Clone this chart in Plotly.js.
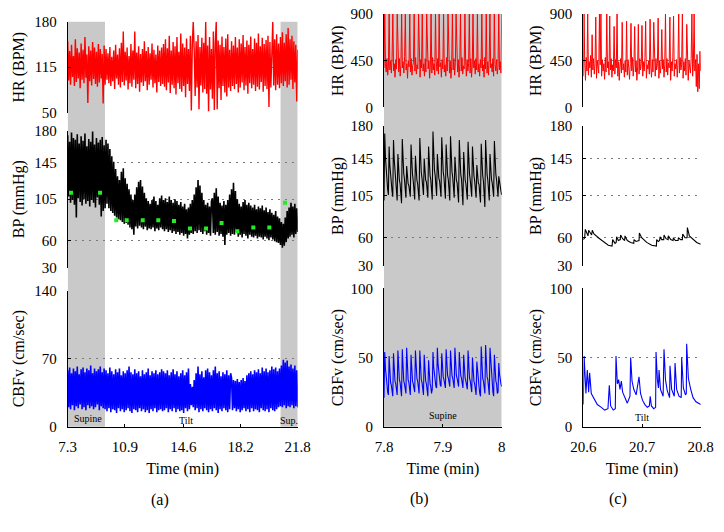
<!DOCTYPE html>
<html>
<head>
<meta charset="utf-8">
<script src="https://cdn.plot.ly/plotly-3.0.1.min.js"></script>
<style>html,body{margin:0;padding:0;background:#fff;}#chart{width:724px;height:532px;}</style>
</head>
<body>
<div id="chart"></div>
<script>
// ---------------- Data ----------------
// Panel (a): 7.3 - 21.8 min, samples evenly spaced (x0 / dx)
var timeA0 = 7.3, timeAStep = 0.060417;
var hrA = [
152,96,138,90,147,101,131,88,155,94,142,99,136,85,149,97,140,92,158,100,133,64,145,95,139,89,151,98,143,91,137,87,148,93,141,99,134,63,146,90,
141,97,135,92,144,88,130,95,139,84,147,99,133,90,142,86,150,94,166,89,137,96,143,83,131,92,148,87,139,97,166,85,136,91,145,80,134,93,141,88,152,95,138,82,144,90,135,97,149,86,140,92,133,79,146,94,139,88,143,91,
148,87,155,82,142,93,160,78,139,90,151,85,145,76,158,92,137,84,163,80,149,88,143,72,156,91,141,81,160,53,147,180,139,74,152,86,161,55,144,89,157,79,150,84,180,77,146,52,158,83,141,70,166,54,149,180,55,153,85,147,68,159,88,144,79,156,73,162,86,140,81,
152,88,146,84,158,91,143,79,155,86,149,93,161,82,144,89,153,77,147,92,159,85,141,90,156,81,150,87,163,83,145,94,157,80,148,88,154,84,160,58,151,86,147,180,89,155,82,162,90,149,85,
158,92,165,88,150,95,162,86,171,90,155,97,160,84,152,93,147,66,140];
var bpA = [
175,108,168,101,178,104,172,99,170,85,176,106,166,102,174,98,169,105,177,100,163,103,171,97,168,104,179,101,165,96,172,107,167,99,170,86,173,92,164,95,
170,100,166,95,160,92,152,90,146,87,138,85,130,83,126,82,135,80,139,78,128,
79,122,77,116,74,110,72,104,66,110,75,118,73,124,76,126,74,119,72,112,75,106,71,103,73,100,72,104,74,108,70,103,73,99,71,106,74,109,72,104,
70,106,72,102,69,108,71,104,68,101,70,105,67,103,69,99,66,102,68,97,65,100,67,94,62,96,66,100,68,104,67,110,70,118,68,126,71,120,69,112,67,104,70,99,66,101,68,97,65,103,
106,68,112,66,117,69,108,65,101,67,98,64,103,55,99,66,104,68,110,65,116,67,123,66,114,69,105,64,100,66,97,63,102,67,104,65,99,62,101,66,98,64,96,63,99,65,94,62,97,64,
95,63,98,61,93,64,96,62,91,60,94,63,90,61,88,59,92,58,86,57,84,55,80,52,78,54,85,58,92,62,96,64,101,66,97,63,100,67,95,69];
var cbfvA = [
58,20,61,18,55,22,60,17,57,21,62,19,54,23,59,18,61,20,56,17,60,22,58,19,63,21,55,18,60,20,57,23,59,17,62,21,56,19,60,18,
58,16,55,19,61,15,57,18,54,17,59,14,56,19,60,16,53,18,57,15,55,17,58,19,62,16,56,14,54,18,59,17,55,15,57,19,52,16,58,18,54,15,56,17,60,14,53,18,57,16,55,19,58,15,54,17,56,18,59,16,
57,17,55,19,58,15,53,18,56,16,59,19,54,15,57,18,52,16,55,17,58,14,53,19,56,16,60,18,44,22,41,20,48,17,55,19,62,15,54,18,57,16,51,19,58,17,60,15,56,18,53,16,58,19,62,17,55,14,57,18,52,16,56,19,54,17,58,15,53,18,55,
50,17,48,19,47,16,49,18,46,15,48,17,50,19,47,16,53,18,55,15,57,19,54,16,58,18,56,17,59,15,55,19,61,17,57,16,60,18,56,15,58,19,62,17,59,16,61,18,57,20,60,
21,63,20,69,22,66,19,68,21,62,20,64,22,60,19,63,21,58,20];
var meanBpTime = [7.51, 9.34, 10.36, 11.02, 12.03, 13.01, 14.0, 15.01, 16.02, 17.0, 17.99, 19.0, 20.01, 21.0];
var meanBp     = [112, 112, 82, 82, 82, 82, 81, 73, 73, 79, 70, 74, 74, 101];

// Panel (b): 7.8 - 8.0 min (supine)
var timeB0 = 7.8, hrBStep = 0.00125, beatBStep = 0.0012422;
var hrB = [
380,900,420,340,470,310,390,900,360,450,330,480,900,350,420,290,460,370,900,400,
340,470,300,410,900,380,440,330,490,900,360,420,280,450,390,900,340,470,310,400,
430,900,350,480,320,410,370,900,440,290,460,380,900,350,420,300,470,340,900,410,
370,450,280,400,900,330,480,360,420,310,900,440,350,470,320,900,390,430,290,460,
370,900,340,410,300,480,350,900,420,330,450,280,390,900,360,470,310,430,900,380,
340,460,290,410,900,350,480,320,400,370,900,440,300,460,350,420,900,330,470,290,
410,900,380,450,320,470,360,900,340,420,300,460,380,900,350,410,290,480,370,900,
330,440,310,460,900,380,420,340,470,300,900,410,350,460,320,390,900,360,440,330,900];
var bpB = [
100,172,146,132,128,112, 106,158,138,126,122,110, 104,165,144,130,124,108, 100,150,133,122,118,104,
97,166,143,129,123,107, 103,137,126,118,116,106, 104,160,140,128,121,108, 101,148,132,122,118,105,
100,167,144,130,124,108, 106,145,131,122,120,109, 103,158,139,127,122,107, 101,174,149,133,127,110,
105,150,134,124,121,108, 104,168,145,131,125,109, 102,160,140,127,122,107, 100,169,146,131,125,108,
103,147,132,122,119,106, 98,165,143,128,123,106, 95,152,134,122,118,104, 101,163,142,128,122,107,
104,158,139,127,121,108, 103,138,127,119,117,106, 98,161,140,127,121,105, 93,165,143,128,122,106,
100,150,134,123,119,106, 104,164,142,128,122,107, 104,126,118,112,110,106];
var cbfvB = [
21,54,42,33,31,25, 23,51,40,32,30,24, 22,53,41,33,31,24, 23,55,43,34,32,25, 22,56,43,33,31,25,
24,57,44,34,32,26, 23,52,41,33,31,25, 25,55,43,35,33,27, 24,55,43,34,32,26, 23,52,41,33,31,25,
22,48,38,31,29,24, 27,54,43,36,34,29, 28,57,45,37,35,30, 29,53,43,36,34,30, 28,56,45,37,35,29,
29,55,44,37,35,30, 28,57,45,37,35,29, 29,54,44,37,35,30, 28,52,42,35,33,29, 27,55,43,35,33,28,
25,50,40,33,31,26, 23,47,38,31,29,24, 22,58,45,35,33,25, 24,59,46,36,34,26, 23,57,45,35,33,25,
22,52,41,33,31,24, 25,46,38,32,31,29];

// Panel (c): 20.6 - 20.8 min (tilt)
var timeC0 = 20.6, hrCStep = 0.00125;
var hrC = [
300,900,420,260,480,350,900,310,440,380,500,290,700,360,470,320,420,870,280,450,
390,330,900,410,900,300,460,350,420,270,480,340,900,380,440,310,880,360,470,290,
410,350,780,320,460,380,900,300,440,260,400,470,330,820,360,420,290,450,340,830,
310,460,380,270,420,810,350,480,300,410,780,340,450,260,390,800,320,470,360,420,
790,300,440,350,480,830,280,410,370,450,320,850,390,290,460,340,820,410,300,470,
360,420,860,280,450,330,400,750,370,460,290,410,900,340,470,310,430,380,870,260,
440,350,480,880,300,420,370,460,290,410,900,330,480,360,410,900,280,440,350,470,
310,800,420,260,450,380,330,470,900,300,420,900,350,460,200,510,150,420,180,540,350];
var bpCTime = [20.6000,20.6023,20.6034,20.6068,20.6080,20.6091,20.6125,20.6142,20.6153,20.6182,20.6256,20.6341,20.6426,20.6490,20.6500,20.6540,20.6560,20.6568,20.6597,20.6630,20.6636,20.6670,20.6705,20.6710,20.6750,20.6807,20.6860,20.6864,20.6898,20.6950,20.6955,20.6994,20.7080,20.7165,20.7245,20.7250,20.7278,20.7300,20.7307,20.7335,20.7370,20.7375,20.7409,20.7445,20.7449,20.7489,20.7530,20.7534,20.7568,20.7615,20.7619,20.7659,20.7688,20.7693,20.7733,20.7768,20.7773,20.7807,20.7875,20.7932,20.8000];
var bpC = [58,60,69,63,62,68,64,63,68,64,60,56,52,51,58,54,55,61,57,58,63,59,57,62,57,55,54,58,56,57,65,60,55,52,51,58,56,57,61,58,58,63,59,58,62,58,57,60,57,57,60,58,58,64,60,60,71,62,58,55,53];
var cbfvCTime = [20.6000,20.6014,20.6045,20.6068,20.6091,20.6108,20.6136,20.6182,20.6239,20.6307,20.6364,20.6420,20.6443,20.6466,20.6510,20.6545,20.6557,20.6580,20.6602,20.6625,20.6648,20.6670,20.6710,20.6750,20.6795,20.6807,20.6830,20.6860,20.6900,20.6949,20.6975,20.7010,20.7050,20.7090,20.7125,20.7140,20.7160,20.7200,20.7232,20.7239,20.7262,20.7280,20.7290,20.7315,20.7360,20.7375,20.7400,20.7430,20.7470,20.7477,20.7505,20.7550,20.7563,20.7590,20.7630,20.7668,20.7676,20.7705,20.7740,20.7755,20.7761,20.7790,20.7830,20.7870,20.7920,20.7960,20.8000];
var cbfvC = [16,51,24,41,25,39,24,20,16,14,12,13,30,15,12,13,51,31,34,27,33,25,21,17,22,50,33,27,23,36,24,19,16,14,15,22,15,13,14,54,34,28,41,27,22,56,34,26,21,44,27,22,46,27,22,21,50,28,23,24,60,35,27,21,18,17,16];

// Tick values / labels
var xTicksA = [7.3, 10.9, 14.6, 18.2, 21.8];
var xTicksB = [7.8, 7.9, 8.0], xTickTextB = ['7.8', '7.9', '8'];
var xTicksC = [20.6, 20.7, 20.8];
var hrTicksA = [50, 115, 180];
var hrTicksBC = [0, 450, 900];
var bpTicks = [30, 60, 105, 145, 180];
var cbfvTicksA = [0, 70, 140];
var cbfvTicksBC = [0, 50, 100];
// Posture periods (min)
var supineA = [7.3, 9.65], supA = [20.72, 21.8], supineB = [7.8, 8.0];

// ---------------- Figure ----------------
var FONT = 'Liberation Serif';
var RED = '#ff0000', BLUE = '#0000ff', BLACK = '#000000', GREEN = '#22ee22', GRAY = '#c9c9c9';

function lineTrace(xa, ya, y, x0, dx, color, w) {
  return {type: 'scatter', mode: 'lines', xaxis: xa, yaxis: ya, y: y, x0: x0, dx: dx,
    line: {color: color, width: w}, hoverinfo: 'skip', showlegend: false};
}
function xyTrace(xa, ya, x, y, color, w) {
  return {type: 'scatter', mode: 'lines', xaxis: xa, yaxis: ya, x: x, y: y,
    line: {color: color, width: w}, hoverinfo: 'skip', showlegend: false};
}

var traces = [
  lineTrace('x', 'y', hrA, timeA0, timeAStep, RED, 1.4),
  lineTrace('x', 'y2', bpA, timeA0, timeAStep, BLACK, 1.6),
  {type: 'scatter', mode: 'markers', xaxis: 'x', yaxis: 'y2', x: meanBpTime, y: meanBp,
   marker: {symbol: 'square', size: 4, color: GREEN, line: {width: 0}}, showlegend: false, hoverinfo: 'skip'},
  lineTrace('x', 'y3', cbfvA, timeA0, timeAStep, BLUE, 1.6),
  lineTrace('x2', 'y4', hrB, timeB0, hrBStep, RED, 1),
  lineTrace('x2', 'y5', bpB, timeB0, beatBStep, BLACK, 1.1),
  lineTrace('x2', 'y6', cbfvB, timeB0, beatBStep, BLUE, 1.1),
  lineTrace('x3', 'y7', hrC, timeC0, hrCStep, RED, 1),
  xyTrace('x3', 'y8', bpCTime, bpC, BLACK, 1.1),
  xyTrace('x3', 'y9', cbfvCTime, cbfvC, BLUE, 1.1)
];

var W = 724, H = 532;
function dx_(a, b) { return [a / W, b / W]; }
function dy_(top, bottom) { return [1 - bottom / H, 1 - top / H]; }

var tickFont = {family: FONT, size: 15, color: '#000'};
var titleFont = {family: FONT, size: 16, color: '#000'};

function xAxis(dom, anchor, range, tv, tt) {
  var ax = {domain: dom, anchor: anchor, range: range, tickmode: 'array', tickvals: tv,
    ticks: 'inside', ticklen: 3, tickcolor: '#000', tickwidth: 1,
    showline: true, linecolor: '#000', linewidth: 1.5, showgrid: false, zeroline: false,
    tickfont: tickFont, ticklabelstandoff: 6,
    title: {text: 'Time (min)', font: titleFont, standoff: 8}, fixedrange: true};
  if (tt) ax.ticktext = tt;
  return ax;
}
function yAxis(dom, anchor, range, tv, title, so) {
  return {domain: dom, anchor: anchor, range: range, tickmode: 'array', tickvals: tv,
    ticks: 'inside', ticklen: 3, tickcolor: '#000', tickwidth: 1,
    showline: true, linecolor: '#000', linewidth: 1, showgrid: true,
    gridcolor: '#7a7a7a', gridwidth: 1, griddash: '2px,5px', zeroline: false,
    tickfont: tickFont, ticklabelstandoff: 7,
    title: {text: title, font: titleFont, standoff: so}, fixedrange: true};
}

var colA = dx_(67.7, 297.7), colB = dx_(384, 501.7), colC = dx_(583.3, 700.7);
var hrDomA = dy_(21.7, 112.7), bpDomA = dy_(130.7, 267.7), cbDomA = dy_(290.7, 426.7);
var hrDomB = dy_(14, 107.3), bpDomB = dy_(126, 265.7), cbDomB = dy_(288.3, 426.7);

var annFont = {family: FONT, size: 10, color: '#000'};
function panelLabel(px, py, t) {
  return {xref: 'paper', yref: 'paper', x: px / W, y: 1 - py / H, xanchor: 'center', yanchor: 'middle',
    text: t, showarrow: false, font: titleFont};
}
var layout = {
  width: W, height: H, margin: {l: 0, r: 0, t: 0, b: 0},
  paper_bgcolor: '#ffffff', plot_bgcolor: 'rgba(0,0,0,0)', showlegend: false,
  font: {family: FONT, size: 15, color: '#000'},
  xaxis: xAxis(colA, 'y3', [7.3, 21.8], xTicksA),
  xaxis2: xAxis(colB, 'y6', [7.8, 8.0], xTicksB, xTickTextB),
  xaxis3: xAxis(colC, 'y9', [20.6, 20.8], xTicksC),
  yaxis: yAxis(hrDomA, 'x', [50, 180], hrTicksA, 'HR (BPM)', 5),
  yaxis2: yAxis(bpDomA, 'x', [30, 180], bpTicks, 'BP (mmHg)', 5),
  yaxis3: yAxis(cbDomA, 'x', [0, 140], cbfvTicksA, 'CBFv (cm/sec)', 5),
  yaxis4: yAxis(hrDomB, 'x2', [0, 900], hrTicksBC, 'HR (BPM)', 2),
  yaxis5: yAxis(bpDomB, 'x2', [30, 180], bpTicks, 'BP (mmHg)', 2),
  yaxis6: yAxis(cbDomB, 'x2', [0, 100], cbfvTicksBC, 'CBFv (cm/sec)', 2),
  yaxis7: yAxis(hrDomB, 'x3', [0, 900], hrTicksBC, 'HR (BPM)', 4),
  yaxis8: yAxis(bpDomB, 'x3', [30, 180], bpTicks, 'BP (mmHg)', 4),
  yaxis9: yAxis(cbDomB, 'x3', [0, 100], cbfvTicksBC, 'CBFv (cm/sec)', 4),
  shapes: [
    {type: 'rect', layer: 'below', xref: 'x', yref: 'paper', x0: supineA[0], x1: supineA[1], y0: cbDomA[0], y1: hrDomA[1], fillcolor: GRAY, line: {width: 0}},
    {type: 'rect', layer: 'below', xref: 'x', yref: 'paper', x0: supA[0], x1: supA[1], y0: cbDomA[0], y1: hrDomA[1], fillcolor: GRAY, line: {width: 0}},
    {type: 'rect', layer: 'below', xref: 'x2', yref: 'paper', x0: supineB[0], x1: supineB[1], y0: cbDomB[0], y1: hrDomB[1], fillcolor: GRAY, line: {width: 0}}
  ],
  annotations: [
    {xref: 'x', yref: 'y3', x: 8.55, y: 8.6, text: 'Supine', showarrow: false, font: annFont},
    {xref: 'x', yref: 'y3', x: 14.76, y: 6.5, text: 'Tilt', showarrow: false, font: annFont},
    {xref: 'x', yref: 'y3', x: 21.22, y: 6.5, text: 'Sup.', showarrow: false, font: annFont},
    {xref: 'x2', yref: 'y6', x: 7.9, y: 8, text: 'Supine', showarrow: false, font: annFont},
    {xref: 'x3', yref: 'y9', x: 20.7, y: 6.5, text: 'Tilt', showarrow: false, font: annFont},
    panelLabel(160, 500, '(a)'),
    panelLabel(419, 499, '(b)'),
    panelLabel(618, 499, '(c)')
  ]
};

Plotly.newPlot('chart', traces, layout, {staticPlot: true, displayModeBar: false});
</script>
</body>
</html>
